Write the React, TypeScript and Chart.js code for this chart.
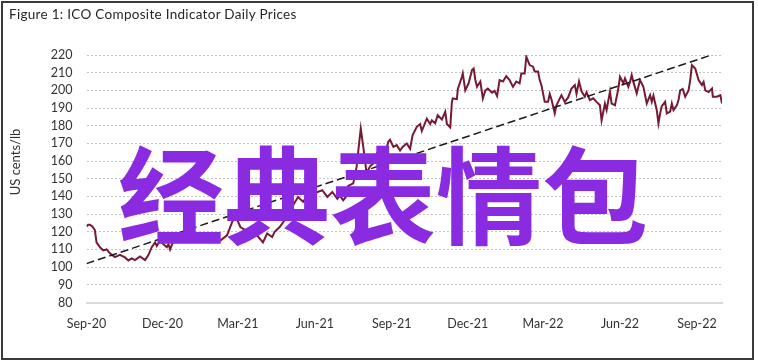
import React, { useEffect, useRef } from 'react';
import { Chart, registerables } from 'chart.js';

Chart.register(...registerables);

// Days counted from 1 Sep 2020
const tickDays = [0, 91, 181, 273, 365, 456, 546, 638, 730];
const tickLabels = ['Sep-20', 'Dec-20', 'Mar-21', 'Jun-21', 'Sep-21', 'Dec-21', 'Mar-22', 'Jun-22', 'Sep-22'];

const priceDays = [
  0, 2, 4, 7, 10, 12, 16, 20, 24, 28, 34, 40, 46, 50, 54, 58, 64, 70, 74, 78,
  82, 84, 88, 92, 96, 98, 100, 104, 109, 115, 124, 130, 136, 142, 148, 154, 160, 168, 175, 180,
  184, 190, 196, 204, 211, 216, 222, 225, 231, 237, 241, 247, 253, 259, 265, 271, 276, 282, 288, 294,
  300, 303, 307, 310, 313, 319, 323, 326, 328, 331, 335, 339, 343, 347, 351, 355, 357, 361, 363, 367,
  371, 375, 378, 383, 387, 390, 395, 399, 401, 407, 411, 413, 417, 420, 425, 429, 431, 435, 437, 438,
  443, 444, 449, 450, 453, 457, 461, 463, 465, 467, 471, 474, 477, 480, 485, 488, 491, 494, 498, 502,
  506, 510, 514, 518, 520, 524, 526, 530, 534, 536, 540, 542, 544, 548, 552, 554, 556, 560, 562, 568,
  572, 576, 580, 584, 586, 589, 592, 596, 598, 602, 606, 610, 614, 616, 620, 622, 626, 628, 632, 636,
  638, 642, 644, 648, 650, 652, 654, 658, 662, 666, 670, 674, 676, 678, 682, 684, 686, 688, 692, 694,
  698, 700, 702, 706, 708, 710, 713, 716, 720, 722, 724, 728, 732, 736, 738, 740, 744, 748, 749, 754,
  758, 760,
];

const priceValues = [
  123, 124, 124, 123, 121, 114, 111.3, 109.5, 110, 107.8, 105.7, 107, 105.5, 103.8, 105, 104, 106, 104, 106.8, 111.3,
  114, 112, 115, 113, 111.3, 113, 110, 115, 116, 115, 117, 119, 118, 117, 118, 116, 115, 118, 126.5, 127,
  122.7, 121, 120, 118, 114, 119, 117, 120, 122.7, 126.5, 130, 135, 139.7, 137, 141, 140, 142.5, 143.5, 139.7, 142.5,
  138.7, 140.6, 137.8, 139.7, 146, 147.4, 156.7, 170, 178.4, 168, 153, 157, 158.7, 164, 160.5, 166, 164, 171, 172, 168,
  169, 166, 168, 170, 167, 174.7, 179.4, 181, 177, 184, 181, 183, 181.4, 186, 183.5, 187.9, 181, 179, 193.5, 195.4,
  195, 200.7, 207.7, 209.6, 200, 204, 211.5, 212.4, 206, 202, 205, 195.4, 200, 201, 198.7, 199.7, 196.8, 205.8, 205, 208,
  205.8, 202, 205, 204, 209.6, 209.6, 219, 214.3, 213.4, 210.6, 210.6, 205.8, 203, 193.5, 193.5, 198, 195, 187, 191.6, 197.3,
  193.5, 196, 201, 203, 198, 205, 199.5, 196.4, 199, 194.5, 195.5, 193.5, 191.6, 183, 192.5, 188.8, 199.3, 192.5, 191.6, 201,
  207.7, 204, 206.8, 202, 204.8, 208.7, 204.8, 198.3, 205.8, 202, 192.6, 197.3, 193.5, 197, 188.8, 181.3, 187, 191, 193.5, 187,
  188, 192.6, 188.8, 191.6, 194.5, 200, 200.8, 196.4, 200, 205.8, 214.3, 212.4, 205.8, 203, 204.8, 200, 199, 201, 196.4, 196.4,
  197.3, 192.6,
];

const trendDays = [0, 760];
const trendValues = [102, 222];

const FONT = 'Lato, "Liberation Sans", Arial, sans-serif';
const TEXT_COLOR = '#333333';

export default function App() {
  const canvasRef = useRef<HTMLCanvasElement | null>(null);

  useEffect(() => {
    const canvas = canvasRef.current;
    if (!canvas) return;
    const chart = new Chart(canvas, {
      type: 'line',
      data: {
        datasets: [
          {
            label: 'Trend',
            data: trendDays.map((d, i) => ({ x: d, y: trendValues[i] })),
            borderColor: '#1a1a1a',
            borderWidth: 1.5,
            borderDash: [8, 4],
            pointRadius: 0,
            fill: false,
          },
          {
            label: 'ICO Composite Indicator',
            data: priceDays.map((d, i) => ({ x: d, y: priceValues[i] })),
            borderColor: '#761a33',
            borderWidth: 2,
            pointRadius: 0,
            tension: 0,
            fill: false,
          },
        ],
      },
      options: {
        responsive: false,
        animation: false,
        layout: { padding: { top: 55, left: 0, right: 36, bottom: 0 } },
        plugins: {
          legend: { display: false },
          tooltip: { enabled: false },
          title: { display: false },
        },
        scales: {
          x: {
            type: 'linear',
            min: 0,
            max: 760,
            afterBuildTicks: (s: any) => {
              s.ticks = tickDays.map((v) => ({ value: v }));
            },
            afterFit: (s: any) => {
              s.height = 60.5;
            },
            ticks: {
              autoSkip: false,
              maxRotation: 0,
              padding: 14,
              color: TEXT_COLOR,
              font: { family: FONT, size: 12.5 },
              callback: (v: any) => {
                const i = tickDays.indexOf(Number(v));
                return i >= 0 ? tickLabels[i] : '';
              },
            },
            grid: { display: false, drawTicks: false },
            border: { display: true, color: '#d9d9d9', width: 2 },
          },
          y: {
            type: 'linear',
            min: 80,
            max: 220,
            afterFit: (s: any) => {
              s.width = 86.5;
            },
            ticks: {
              stepSize: 10,
              autoSkip: false,
              padding: 14,
              color: TEXT_COLOR,
              font: { family: FONT, size: 12.5 },
            },
            grid: { color: '#c4c4c4', lineWidth: 1, drawTicks: false },
            border: { display: false, dash: [2, 2] },
          },
        },
      },
    });
    return () => chart.destroy();
  }, []);

  return (
    <div style={{ position: 'absolute', left: 0, top: 0, width: 758, height: 363, background: '#fff', overflow: 'hidden' }}>
      <canvas ref={canvasRef} width={758} height={363} style={{ position: 'absolute', left: 0, top: 0 }} />
      <div
        style={{
          position: 'absolute', left: 1, top: 1, width: 753, height: 359,
          border: '2px solid #3a3a3a', boxSizing: 'border-box', pointerEvents: 'none',
        }}
      />
      <div
        style={{
          position: 'absolute', left: 9, top: 6, fontFamily: FONT, fontSize: 13.5,
          letterSpacing: 0.3, lineHeight: 1.2, color: '#262626', whiteSpace: 'nowrap',
        }}
      >
        Figure 1: ICO Composite Indicator Daily Prices
      </div>
      <div
        style={{
          position: 'absolute', left: 16, top: 161.5, fontFamily: FONT, fontSize: 13,
          color: TEXT_COLOR, whiteSpace: 'nowrap', transform: 'translate(-50%, -50%) rotate(-90deg)',
          lineHeight: 1.2,
        }}
      >
        US cents/lb
      </div>
      <div
        style={{
          position: 'absolute', left: 118, top: 137, fontFamily: '"Noto Sans CJK SC", sans-serif',
          fontWeight: 700, fontSize: 106, lineHeight: '106px', color: '#8a2be2', whiteSpace: 'nowrap',
          pointerEvents: 'none',
        }}
      >
        经典表情包
      </div>
    </div>
  );
}
